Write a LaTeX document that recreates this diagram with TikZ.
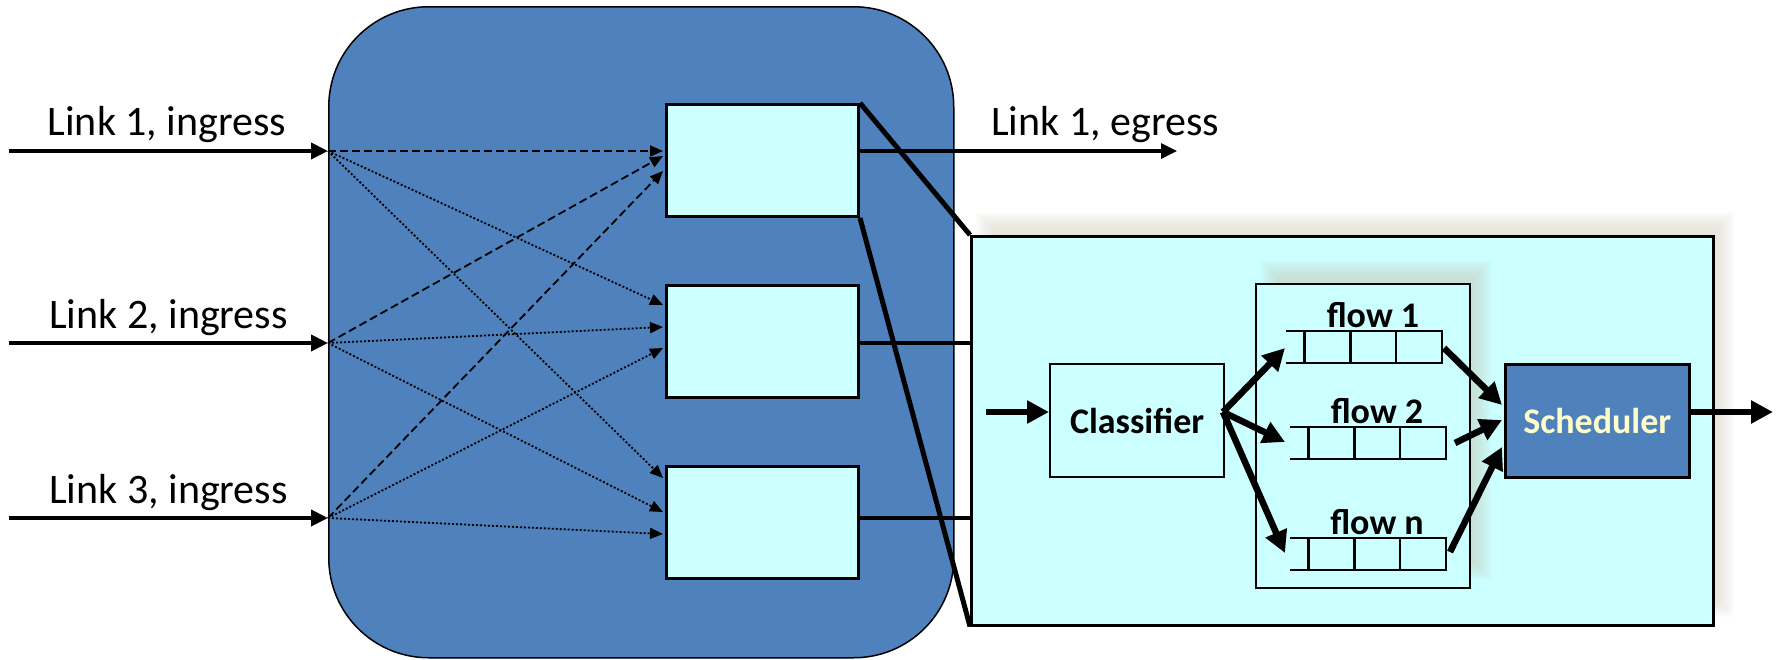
\documentclass[tikz,border=0pt]{standalone}
\usepackage{fontspec}
\setmainfont{Carlito}
\usetikzlibrary{arrows.meta,calc}
\definecolor{boxblue}{HTML}{4F81BD}
\definecolor{paleCyan}{HTML}{CCFFFF}
\definecolor{paleYellow}{HTML}{FFFFCC}
\definecolor{shadowtan}{RGB}{200,192,172}

% soft shadow cast up and to the right of a rectangle given by two corners
\newcommand\castshadow[2]{%
  \foreach \k in {-8,-6,...,8}{%
    \fill[shadowtan, fill opacity=0.055]
      ($#1+({14-(\k)},{-15-(\k)})$) rectangle ($#2+({14+(\k)},{-15+(\k)})$);
  }}

\begin{document}
\begin{tikzpicture}[x=1pt,y=-1pt,
  linklabel/.style={inner sep=0pt, font=\fontsize{42}{50}\selectfont},
  boldlabel/.style={inner sep=0pt, font=\bfseries\fontsize{36}{43}\selectfont},
  portbox/.style={draw, line width=3pt, fill=paleCyan, anchor=north west,
    minimum width=192pt, minimum height=112pt, inner sep=0pt},
  linkarrow/.style={line width=4pt, -{Triangle[length=17pt,width=16pt]}},
  dasharrow/.style={line width=1.8pt, dash pattern=on 8pt off 4pt,
    -{Triangle[length=13pt,width=11pt]}},
  dotarrow/.style={line width=1.8pt, dash pattern=on 2pt off 2pt,
    -{Triangle[length=13pt,width=11pt]}},
  thinarrow/.style={line width=3.3pt, -{Triangle[length=16pt,width=15pt]}},
  heavyarrow/.style={line width=6.5pt, -{Triangle[length=22pt,width=22pt]}},
  zoomline/.style={line width=5pt},
  feedline/.style={line width=3.2pt},
  fifo/.pic={
    \draw[line width=2.2pt] (0,0) -- (156,0) -- (156,32) -- (0,32);
    \foreach \cx in {18.5,64.5,110.3} \draw[line width=2.2pt] (\cx,0) -- (\cx,32);
  }]
\useasboundingbox (0,0) rectangle (1780,659);

% switch fabric
\node[draw, line width=1.5pt, fill=boxblue, rounded corners=100pt,
  minimum width=625pt, minimum height=651pt, anchor=north west, inner sep=0pt]
  (core) at (328,6) {};

% ingress links
\coordinate (src1) at (9,151);
\coordinate (src2) at (9,343);
\coordinate (src3) at (9,518);
\coordinate (in1) at (core.west |- src1);
\coordinate (in2) at (core.west |- src2);
\coordinate (in3) at (core.west |- src3);
\draw[linkarrow] (src1) -- (in1);
\draw[linkarrow] (src2) -- (in2);
\draw[linkarrow] (src3) -- (in3);
\node[linklabel, anchor=base] (lab1) at (167,135) {Link 1, ingress};
\node[linklabel, anchor=base] (lab2) at (168.5,328) {Link 2, ingress};
\node[linklabel, anchor=base] (lab3) at (168.5,503) {Link 3, ingress};

% output ports
\node[portbox] (b1) at (665,103) {};
\node[portbox] (b2) at (665,284) {};
\node[portbox] (b3) at (665,465) {};

% crossbar paths into the ports
\coordinate (t11) at (663,151);
\coordinate (t21) at (663,156);
\coordinate (t31) at (663,171);
\coordinate (t12) at (663,305);
\coordinate (t22) at (663,327);
\coordinate (t32) at (663,348);
\coordinate (t13) at (663,478);
\coordinate (t23) at (663,512);
\coordinate (t33) at (663,534);
\draw[dasharrow] (in1) -- (t11);
\draw[dasharrow] (in2) -- (t21);
\draw[dasharrow] (in3) -- (t31);
\draw[dotarrow] (in1) -- (t12);
\draw[dotarrow] (in2) -- (t22);
\draw[dotarrow] (in3) -- (t32);
\draw[dotarrow] (in1) -- (t13);
\draw[dotarrow] (in2) -- (t23);
\draw[dotarrow] (in3) -- (t33);

% egress link
\coordinate (egr) at (1177,151);
\draw[thinarrow] (b1.east |- in1) -- (egr);
\node[linklabel, anchor=base west] (labe) at (991,135) {Link 1, egress};

% expanded view of an output port
\castshadow{(970,235)}{(1712,624)}
\node[draw, line width=2.5pt, fill=paleCyan, anchor=north west,
  minimum width=742pt, minimum height=389pt, inner sep=0pt] (detail) at (970,235) {};
\draw[feedline] (b2.east |- in2) -- (detail.west |- in2);
\draw[feedline] (b3.east |- in3) -- (detail.west |- in3);
\draw[zoomline] (b1.north east) -- (detail.north west);
\draw[zoomline] (b1.south east) -- (detail.south west);

% per-flow queues
\castshadow{(1255,283)}{(1469,587)}
\node[draw, line width=2.2pt, fill=paleCyan, anchor=north west,
  minimum width=214pt, minimum height=304pt, inner sep=0pt] (cont) at (1255,283) {};
\pic at (1286,331) {fifo};
\pic at (1290,427) {fifo};
\pic at (1290,538) {fifo};
\node[boldlabel, anchor=base] (f1) at (1373,327) {flow 1};
\node[boldlabel, anchor=base] (f2) at (1377,423) {flow 2};
\node[boldlabel, anchor=base] (fn) at (1377,534) {flow n};

% classifier and scheduler
\node[draw, line width=2.2pt, fill=paleCyan, anchor=north west,
  minimum width=174pt, minimum height=113pt, inner sep=0pt, boldlabel]
  (cls) at (1049,363) {Classifier};
\node[draw, line width=2.5pt, fill=boxblue, anchor=north west,
  minimum width=184pt, minimum height=113pt, inner sep=0pt, boldlabel,
  text=paleYellow] (sched) at (1504,363) {Scheduler};

\coordinate (cin) at (986,412);
\coordinate (cout) at (1223,412);
\coordinate (q1in) at (1285,348);
\coordinate (q2in) at (1285,442);
\coordinate (qnin) at (1285,553);
\coordinate (q1out) at (1444,348);
\coordinate (q2out) at (1455,443);
\coordinate (qnout) at (1450,552);
\coordinate (s1) at ($(sched.north west)+(-2,42)$);
\coordinate (s2) at ($(sched.north west)+(-2,57)$);
\coordinate (s3) at ($(sched.north west)+(-2,84)$);
\coordinate (out) at (1773,412);

\draw[heavyarrow] (cin) -- (cls.west |- cin);
\draw[heavyarrow] (cout) -- (q1in);
\draw[heavyarrow] (cout) -- (q2in);
\draw[heavyarrow] (cout) -- (qnin);
\draw[heavyarrow] (q1out) -- (s1);
\draw[heavyarrow] (q2out) -- (s2);
\draw[heavyarrow] (qnout) -- (s3);
\draw[heavyarrow] (sched.east |- cin) -- (out);
\end{tikzpicture}
\end{document}
